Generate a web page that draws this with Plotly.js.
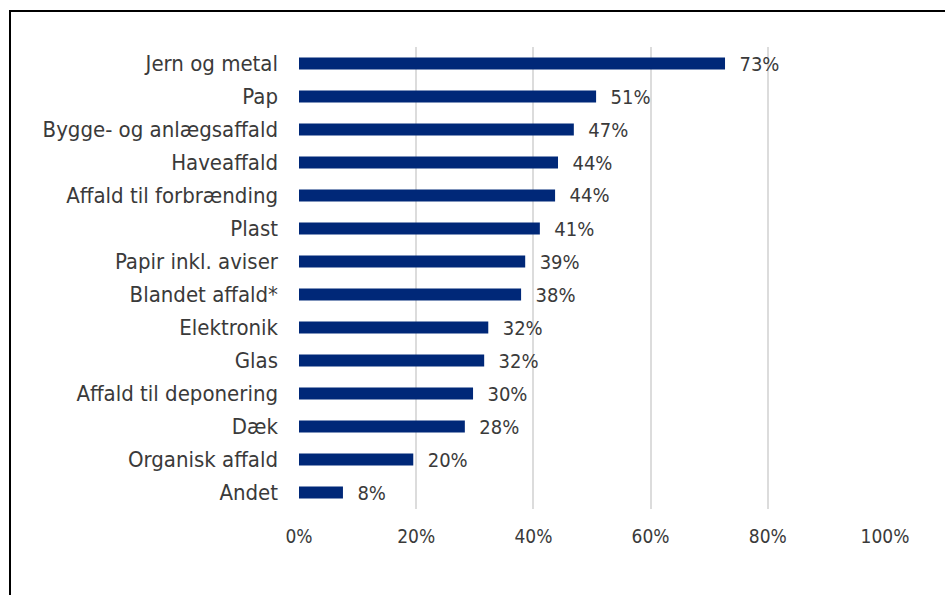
<!DOCTYPE html>
<html>
<head>
<meta charset="utf-8">
<script src="https://cdn.plot.ly/plotly-3.0.1.min.js"></script>
<style>
html,body{margin:0;padding:0;background:#fff;overflow:hidden;}
#chart{position:absolute;left:0;top:0;width:945px;height:595px;}
#frame{position:absolute;left:9px;top:10px;width:1000px;height:700px;border:2px solid #000;pointer-events:none;}
</style>
</head>
<body>
<div id="chart"></div>
<div id="frame"></div>
<script>
const categories = ["Jern og metal","Pap","Bygge- og anlægsaffald","Haveaffald","Affald til forbrænding","Plast","Papir inkl. aviser","Blandet affald*","Elektronik","Glas","Affald til deponering","Dæk","Organisk affald","Andet"];
const values = [72.7, 50.7, 46.9, 44.2, 43.7, 41.1, 38.6, 37.9, 32.3, 31.6, 29.7, 28.3, 19.5, 7.5];
const valueLabels = ["73%","51%","47%","44%","44%","41%","39%","38%","32%","32%","30%","28%","20%","8%"];
const tickValues = [0,20,40,60,80,100];
const tickLabels = ["0%","20%","40%","60%","80%","100%"];

const fontFamily = '"DejaVu Sans Condensed", "DejaVu Sans", sans-serif';

Plotly.newPlot('chart', [{
  type: 'bar',
  orientation: 'h',
  y: categories,
  x: values,
  text: valueLabels,
  texttemplate: '  %{text}',
  textposition: 'outside',
  constraintext: 'none',
  cliponaxis: false,
  textfont: {family: fontFamily, size: 20, color: '#3a3a3a'},
  marker: {color: '#002878'},
  hoverinfo: 'none'
}], {
  width: 945, height: 595,
  margin: {l: 299, r: 60, t: 47, b: 86},
  paper_bgcolor: '#fff', plot_bgcolor: '#fff',
  showlegend: false,
  bargap: 0.63,
  font: {family: fontFamily, size: 20, color: '#3a3a3a'},
  xaxis: {
    range: [0, 100],
    tickvals: tickValues,
    ticktext: tickLabels,
    showgrid: true, gridcolor: '#dcdcdc', gridwidth: 2,
    zeroline: false, showline: false,
    ticks: '', ticklabelstandoff: 14,
    tickfont: {family: fontFamily, size: 19, color: '#3a3a3a'},
    fixedrange: true
  },
  yaxis: {
    autorange: 'reversed',
    showgrid: false, zeroline: false, showline: false,
    ticks: '', ticklabelstandoff: 20,
    tickfont: {family: fontFamily, size: 22, color: '#3a3a3a'},
    fixedrange: true
  }
}, {staticPlot: true, displayModeBar: false});
</script>
</body>
</html>
